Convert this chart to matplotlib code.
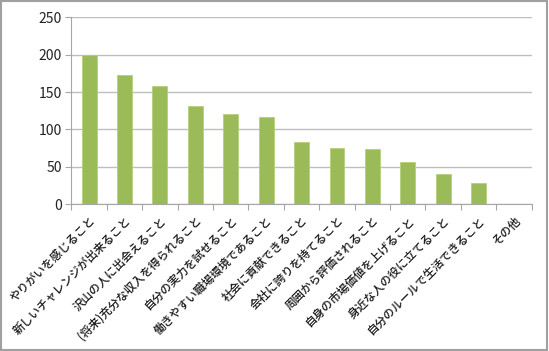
import matplotlib
matplotlib.use("Agg")
import matplotlib.pyplot as plt
from matplotlib.patches import Rectangle
from matplotlib.transforms import ScaledTranslation
import numpy as np

plt.rcParams['font.family'] = ['Noto Sans CJK JP', 'DejaVu Sans']

categories = ["やりがいを感じること", "新しいチャレンジが出来ること", "沢山の人に出会えること",
              "(将来)充分な収入を得られること", "自分の実力を試せること", "働きやすい職場環境であること",
              "社会に貢献できること", "会社に誇りを持てること", "周囲から評価されること",
              "自身の市場価値を上げること", "身近な人の役に立てること", "自分のルールで生活できること",
              "その他"]
values = [200, 173, 158, 131, 121, 116, 83, 75, 74, 57, 41, 28, 0]
yticks = [0, 50, 100, 150, 200, 250]

fig = plt.figure(figsize=(5.49, 3.51), dpi=100)
ax = fig.add_axes([0.130, 0.418, 0.8385, 0.533])

x = np.arange(len(categories))
ax.bar(x, values, width=0.42, color='#9BBB59', edgecolor='#B5D07E', linewidth=0.6, zorder=3)

ax.set_xlim(-0.5, len(categories) - 0.5)
ax.set_ylim(0, 250)
ax.set_yticks(yticks)
ax.yaxis.grid(True, color='#BEBEBE', linewidth=1.0, zorder=0)
ax.set_axisbelow(True)

ax.set_xticks(x)
ax.set_xticklabels(categories, rotation=45, ha='right', va='top', rotation_mode='anchor',
                   fontsize=8.3, fontweight='medium')
offset = ScaledTranslation(6 / 100, 0, fig.dpi_scale_trans)
for lab in ax.get_xticklabels():
    lab.set_transform(lab.get_transform() + offset)
ax.set_xticks(np.arange(-0.5, len(categories)), minor=True)
ax.tick_params(axis='x', which='major', length=0, pad=7, colors='#1a1a1a')
ax.tick_params(axis='x', which='minor', length=4, color='#A6A6A6', width=0.8)
ax.tick_params(axis='y', length=4, color='#A6A6A6', width=0.8, labelsize=10, labelcolor='#222222', pad=3)

for s in ['top', 'right']:
    ax.spines[s].set_visible(False)
for s in ['left', 'bottom']:
    ax.spines[s].set_color('#A6A6A6')
    ax.spines[s].set_linewidth(0.8)

fig.patches.append(Rectangle((0.002, 0.003), 0.995, 0.994, transform=fig.transFigure,
                             fill=False, edgecolor='#A0A0A0', linewidth=1.5))

fig.savefig('out.png', dpi=100)
